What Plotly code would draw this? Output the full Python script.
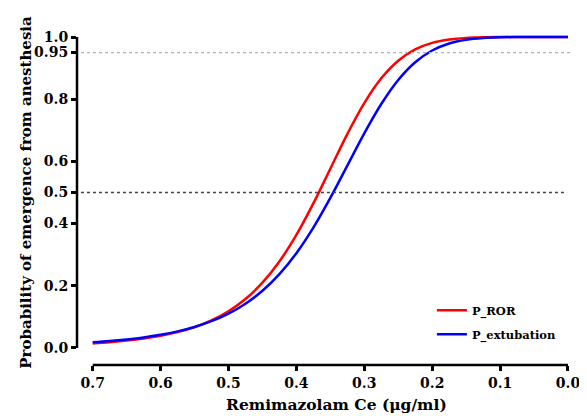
import plotly.graph_objects as go

# Remimazolam effect-site concentration (ug/ml)
ce = [0.700, 0.675, 0.650, 0.625, 0.600, 0.575, 0.550, 0.525, 0.500, 0.475,
      0.450, 0.425, 0.400, 0.375, 0.350, 0.325, 0.300, 0.275, 0.250, 0.225,
      0.200, 0.175, 0.150, 0.125, 0.100, 0.075, 0.050, 0.025, 0.000]

# Probability values
p_ror = [0.0148, 0.0187, 0.0238, 0.0305, 0.0394, 0.0513, 0.0673, 0.0889, 0.1182, 0.1575,
         0.2100, 0.2782, 0.3636, 0.4650, 0.5765, 0.6879, 0.7876, 0.8672, 0.9238, 0.9601,
         0.9810, 0.9920, 0.9970, 0.9991, 0.9998, 1.0000, 1.0000, 1.0000, 1.0000]
p_extubation = [0.0182, 0.0223, 0.0275, 0.0340, 0.0425, 0.0534, 0.0677, 0.0862, 0.1106, 0.1424,
                0.1840, 0.2374, 0.3049, 0.3871, 0.4826, 0.5863, 0.6902, 0.7846, 0.8619, 0.9188,
                0.9566, 0.9791, 0.9911, 0.9968, 0.9991, 0.9998, 1.0000, 1.0000, 1.0000]

y_ticks = [0.0, 0.2, 0.4, 0.5, 0.6, 0.8, 0.95, 1.0]
y_tick_text = ["0.0", "0.2", "0.4", "0.5", "0.6", "0.8", "0.95", "1.0"]
x_ticks = [0.7, 0.6, 0.5, 0.4, 0.3, 0.2, 0.1, 0.0]
x_tick_text = ["0.7", "0.6", "0.5", "0.4", "0.3", "0.2", "0.1", "0.0"]

FONT = "DejaVu Serif"

fig = go.Figure()
fig.add_trace(go.Scatter(x=ce, y=p_ror, mode="lines", name="P_ROR", legendgroup="a",
                         line=dict(color="#ff0000", width=2.5, shape="spline")))
fig.add_trace(go.Scatter(x=ce, y=p_extubation, mode="lines", name="P_extubation", legendgroup="b",
                         line=dict(color="#0000ff", width=2.5, shape="spline")))

# reference lines
fig.add_shape(type="line", xref="paper", yref="y", x0=0.008, x1=1.0, y0=0.95, y1=0.95,
              line=dict(color="#b0b0b0", width=1.2, dash="dot"))
fig.add_shape(type="line", xref="paper", yref="y", x0=0.008, x1=0.99, y0=0.5, y1=0.5,
              line=dict(color="#444444", width=1.6, dash="dot"))

# offset axis lines (Prism style)
fig.add_shape(type="line", xref="paper", yref="y", x0=0, x1=0, y0=0, y1=1.0,
              line=dict(color="black", width=2.5))
fig.add_shape(type="line", xref="x", yref="paper", x0=0.7, x1=0.0, y0=0, y1=0,
              line=dict(color="black", width=2.5))

tickfont = dict(family=FONT, size=14, color="black", weight="bold")

# page body has an 8px default margin; size the figure so it fills the 587x416 window
fig.update_layout(
    width=579, height=408,
    margin=dict(l=69, r=15, t=22, b=51),
    plot_bgcolor="white", paper_bgcolor="white",
    font=dict(family=FONT, color="black", size=14),
    showlegend=True,
    legend=dict(x=0.717, y=0.207, xanchor="left", yanchor="top",
                font=dict(family=FONT, size=11.5, color="black", weight="bold"),
                bgcolor="rgba(0,0,0,0)", tracegroupgap=5, itemwidth=30),
    xaxis=dict(range=[0.7231, -0.0059], tickvals=x_ticks, ticktext=x_tick_text,
               showgrid=False, zeroline=False, showline=False, automargin=False,
               ticks="outside", ticklen=5, tickwidth=2.5, tickcolor="black",
               tickfont=tickfont),
    yaxis=dict(range=[-0.0547, 1.0225], tickvals=y_ticks, ticktext=y_tick_text,
               showgrid=False, zeroline=False, showline=False, automargin=False,
               ticks="outside", ticklen=5, tickwidth=2.5, tickcolor="black",
               tickfont=tickfont),
    annotations=[
        dict(text="Remimazolam Ce (μg/ml)", xref="paper", yref="paper",
             x=0.5244, y=-0.119, xanchor="center", yanchor="middle", showarrow=False,
             font=dict(family=FONT, size=15.5, color="black", weight="bold")),
        dict(text="Probability of emergence from anesthesia", xref="paper", yref="paper",
             x=-0.1018, y=0.516, xanchor="center", yanchor="middle", showarrow=False,
             textangle=-90,
             font=dict(family=FONT, size=15, color="black", weight="bold")),
    ],
)

fig.write_html("out.html")
